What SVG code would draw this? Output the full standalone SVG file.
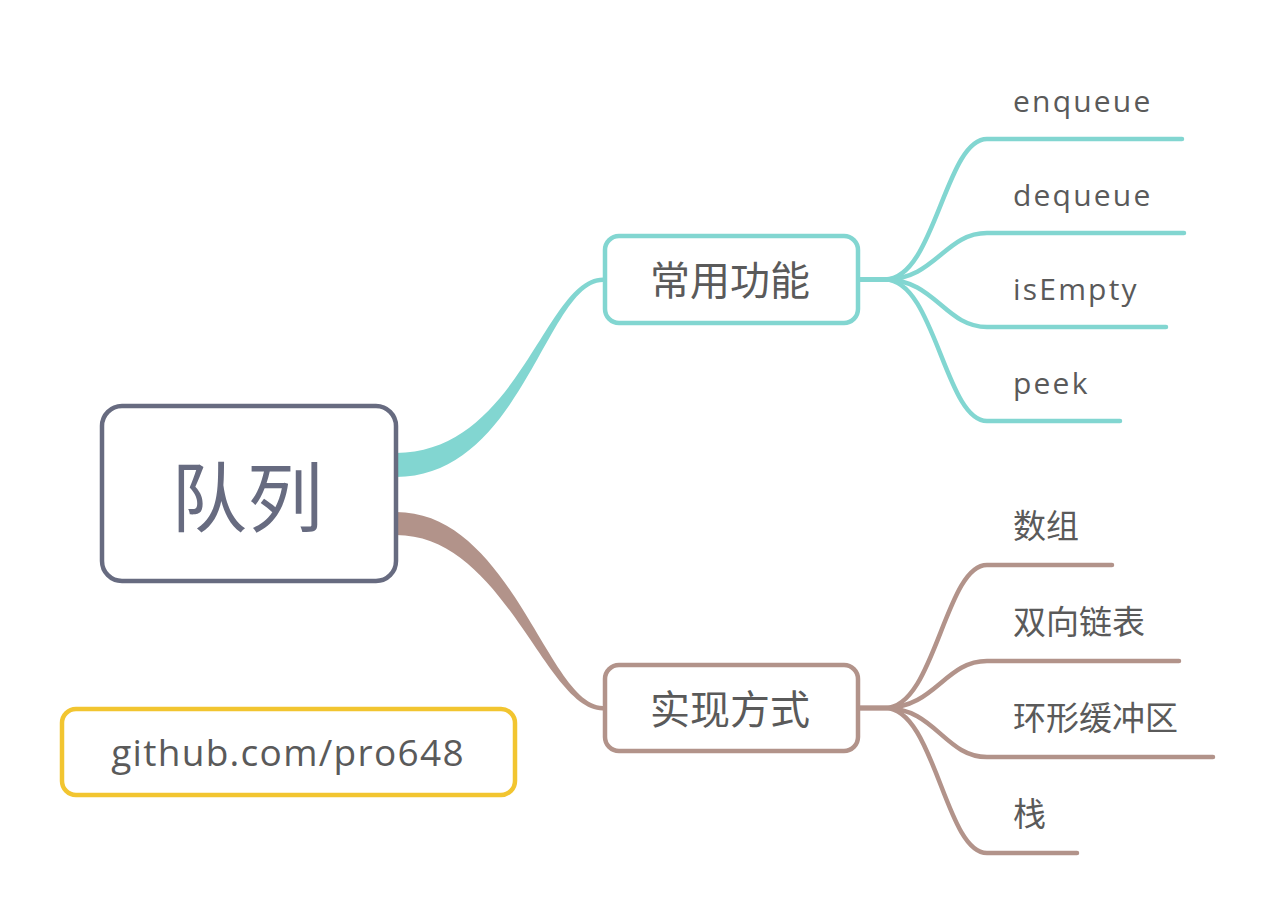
<svg xmlns="http://www.w3.org/2000/svg" width="1276" height="916" viewBox="0 0 1276 916">
<style>
.box{fill:#fff;stroke-width:4.5}
.teal{stroke:#82d6d1}
.brown{stroke:#b2938a}
.line{fill:none;stroke-width:4.5;stroke-linecap:round;stroke-linejoin:round}
.lat{font-family:"Open Sans","Noto Sans","DejaVu Sans",sans-serif;font-size:30px;letter-spacing:2.2px;fill:#5a5a5a}
.cjk{font-family:"Noto Sans CJK SC","Noto Sans",sans-serif;font-size:33px;fill:#5a5a5a}
.mid{font-family:"Noto Sans CJK SC","Noto Sans",sans-serif;font-size:40px;fill:#5a5a5a;text-anchor:middle}
</style>
<rect width="1276" height="916" fill="#fff"/>
<g id="connectors">
  <path d="M396,453 C520,452 545,277.5 603,277.5 L603,282 C547,282 522,477 396,477 Z" fill="#82d6d1"/>
  <path d="M396,512 C512,512 548,706 603,706 L603,710.5 C545,710.5 505,535 396,535 Z" fill="#b2938a"/>
  <g class="line teal">
    <path d="M860,279.5 L885,279.5 C935,279.5 945,139 987,139 L1182,139"/>
    <path d="M860,279.5 L885,279.5 C935,279.5 945,233 987,233 L1184,233"/>
    <path d="M860,279.5 L885,279.5 C935,279.5 945,327 987,327 L1166,327"/>
    <path d="M860,279.5 L885,279.5 C935,279.5 945,421 987,421 L1120,421"/>
  </g>
  <g class="line brown">
    <path d="M860,708 L885,708 C935,708 945,565 987,565 L1112,565"/>
    <path d="M860,708 L885,708 C935,708 945,661 987,661 L1179,661"/>
    <path d="M860,708 L885,708 C935,708 945,757 987,757 L1213,757"/>
    <path d="M860,708 L885,708 C935,708 945,853 987,853 L1077,853"/>
  </g>
</g>
<g id="root">
  <rect class="box" x="102" y="406" width="294" height="175" rx="20" stroke="#676b80"/>
  <text x="247" y="526" text-anchor="middle" font-family="'Noto Sans CJK SC','Noto Sans',sans-serif" font-size="76" fill="#676b80">队列</text>
</g>
<g id="functions">
  <rect class="box teal" x="605" y="236" width="253" height="87" rx="14"/>
  <text class="mid" x="730" y="295">常用功能</text>
</g>
<g id="impl">
  <rect class="box brown" x="605" y="665" width="253" height="86" rx="14"/>
  <text class="mid" x="730" y="724">实现方式</text>
</g>
<g id="enqueue"><text class="lat" x="1013" y="112">enqueue</text></g>
<g id="dequeue"><text class="lat" x="1013" y="206">dequeue</text></g>
<g id="isEmpty"><text class="lat" x="1013" y="300">isEmpty</text></g>
<g id="peek"><text class="lat" x="1013" y="394">peek</text></g>
<g id="array"><text class="cjk" x="1013" y="538">数组</text></g>
<g id="linkedlist"><text class="cjk" x="1013" y="634">双向链表</text></g>
<g id="ringbuffer"><text class="cjk" x="1013" y="730">环形缓冲区</text></g>
<g id="stack"><text class="cjk" x="1013" y="826">栈</text></g>
<g id="github">
  <rect class="box" x="62" y="709" width="453" height="86" rx="14" stroke="#f2c530"/>
  <text x="288" y="766" text-anchor="middle" font-family="'Open Sans','Noto Sans',sans-serif" font-size="37" letter-spacing="1.3" fill="#5a5a5a">github.com/pro648</text>
</g>
</svg>
